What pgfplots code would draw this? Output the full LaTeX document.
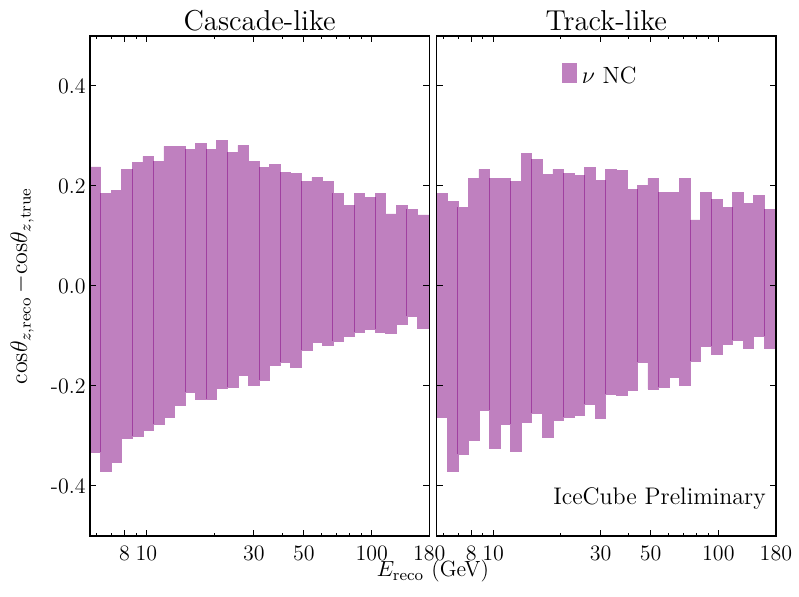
\documentclass[border=0pt]{standalone}
\usepackage{pgfplots}
\pgfplotsset{compat=1.18}
\usepackage{pgfplotstable}
\definecolor{barfill}{RGB}{191,128,191}
\definecolor{barline}{RGB}{160,64,160}

\pgfplotstableread{
e lo hi
5.6234 -0.332 0.238
6.2643 -0.370 0.185
6.9783 -0.352 0.191
7.7736 -0.304 0.233
8.6596 -0.300 0.247
9.6466 -0.289 0.259
10.746 -0.276 0.249
11.971 -0.262 0.279
13.335 -0.238 0.279
14.855 -0.212 0.273
16.548 -0.227 0.285
18.434 -0.226 0.273
20.535 -0.204 0.291
22.876 -0.202 0.267
25.483 -0.178 0.281
28.387 -0.198 0.249
31.623 -0.188 0.237
35.227 -0.158 0.243
39.242 -0.152 0.227
43.715 -0.162 0.225
48.697 -0.128 0.209
54.247 -0.112 0.217
60.430 -0.118 0.209
67.317 -0.110 0.185
74.989 -0.100 0.161
83.536 -0.092 0.185
93.057 -0.086 0.177
103.66 -0.092 0.185
115.48 -0.094 0.144
128.64 -0.076 0.161
143.30 -0.060 0.153
159.63 -0.084 0.142
180.00 -0.084 0.142
}\cascade

\pgfplotstableread{
e lo hi
5.6234 -0.262 0.185
6.2643 -0.370 0.169
6.9783 -0.336 0.157
7.7736 -0.308 0.215
8.6596 -0.248 0.233
9.6466 -0.324 0.215
10.746 -0.276 0.215
11.971 -0.330 0.209
13.335 -0.272 0.265
14.855 -0.254 0.253
16.548 -0.302 0.223
18.434 -0.268 0.233
20.535 -0.262 0.225
22.876 -0.258 0.221
25.483 -0.236 0.237
28.387 -0.264 0.211
31.623 -0.216 0.233
35.227 -0.218 0.231
39.242 -0.208 0.193
43.715 -0.152 0.201
48.697 -0.206 0.215
54.247 -0.202 0.187
60.430 -0.182 0.187
67.317 -0.198 0.215
74.989 -0.150 0.132
83.536 -0.120 0.187
93.057 -0.136 0.173
103.66 -0.116 0.157
115.48 -0.108 0.187
128.64 -0.124 0.165
143.30 -0.101 0.181
159.63 -0.124 0.153
180.00 -0.124 0.153
}\track

\pgfplotstableread{
x lo hi
6.2643 -0.332 0.185
8.6596 -0.300 0.233
10.746 -0.276 0.249
14.855 -0.212 0.273
18.434 -0.226 0.273
22.876 -0.202 0.267
31.623 -0.188 0.237
39.242 -0.152 0.227
48.697 -0.128 0.209
67.317 -0.110 0.185
83.536 -0.092 0.161
103.66 -0.086 0.177
143.30 -0.060 0.153
}\cascadelines

\pgfplotstableread{
x lo hi
6.9783 -0.336 0.157
9.6466 -0.248 0.215
11.971 -0.276 0.209
14.855 -0.254 0.253
20.535 -0.262 0.225
25.483 -0.236 0.221
31.623 -0.216 0.211
43.715 -0.152 0.193
54.247 -0.202 0.187
74.989 -0.150 0.132
93.057 -0.120 0.173
115.48 -0.108 0.157
159.63 -0.101 0.153
}\tracklines

\begin{document}
\begin{tikzpicture}
\useasboundingbox (-45pt,-30.5pt) rectangle (354.5pt,268pt);
\begin{axis}[name=left, at={(0pt,0pt)}, anchor=south west,
  scale only axis, width=169.6pt, height=250pt,
  xmode=log, xmin=5.6234, xmax=180, ymin=-0.5, ymax=0.5,
  axis on top,
  axis line style={line width=0.6pt, black},
  tick align=inside, major tick length=3pt, minor tick length=1.5pt,
  tick style={black, line width=0.5pt},
  xtick={8,10,30,50,100,180}, xticklabels={8,10,30,50,100,180},
  minor xtick={6,7,9,20,40,60,70,80,90},
  ytick={-0.4,-0.2,0,0.2,0.4},
  tick label style={font=\fontsize{11}{13}\selectfont},
  xticklabel style={inner sep=0pt, anchor=north, yshift=-4.5pt},
  every axis title shift=0pt,
  title style={font=\fontsize{14.4}{17}\selectfont, at={(axis description cs:0.5,1)}, anchor=base, yshift=2.75pt, inner sep=0pt},
  title={Cascade-like},
  yticklabels={-0.4,-0.2,0.0,0.2,0.4},
  yticklabel style={inner sep=0pt, xshift=-2pt},
  xlabel={$E_{\mathrm{reco}}$ (GeV)},
  xlabel style={at={(axis description cs:1.0109,0)}, anchor=base, yshift=-20.5pt, inner sep=0pt, font=\fontsize{11}{13}\selectfont},
  ylabel={$\mathrm{cos}\theta_{z,\mathrm{reco}}\,{-}\mathrm{cos}\theta_{z,\mathrm{true}}$},
  ylabel style={at={(axis description cs:-0.2004,0.5)}, anchor=center, inner sep=0pt, font=\fontsize{11.5}{13}\selectfont},
]
\addplot[ybar interval, fill=barfill, draw=barfill, line width=0.3pt] table[x=e, y=hi] {\cascade};
\addplot[ybar interval, fill=barfill, draw=barfill, line width=0.3pt] table[x=e, y=lo] {\cascade};
\addplot[draw=none, mark=none, error bars/.cd, y dir=plus, y explicit, error mark=none,
  error bar style={draw=barline, line width=0.5pt, solid}]
  table[x=x, y=lo, y error plus expr=\thisrow{hi}-\thisrow{lo}] {\cascadelines};
\end{axis}
\begin{axis}[name=right, at={(173.35pt,0pt)}, anchor=south west,
  scale only axis, width=169.6pt, height=250pt,
  xmode=log, xmin=5.6234, xmax=180, ymin=-0.5, ymax=0.5,
  axis on top,
  axis line style={line width=0.6pt, black},
  tick align=inside, major tick length=3pt, minor tick length=1.5pt,
  tick style={black, line width=0.5pt},
  xtick={8,10,30,50,100,180}, xticklabels={8,10,30,50,100,180},
  minor xtick={6,7,9,20,40,60,70,80,90},
  ytick={-0.4,-0.2,0,0.2,0.4},
  tick label style={font=\fontsize{11}{13}\selectfont},
  xticklabel style={inner sep=0pt, anchor=north, yshift=-4.5pt},
  every axis title shift=0pt,
  title style={font=\fontsize{14.4}{17}\selectfont, at={(axis description cs:0.5,1)}, anchor=base, yshift=2.75pt, inner sep=0pt},
  title={Track-like},
  yticklabels={},
]
\addplot[ybar interval, fill=barfill, draw=barfill, line width=0.3pt] table[x=e, y=hi] {\track};
\addplot[ybar interval, fill=barfill, draw=barfill, line width=0.3pt] table[x=e, y=lo] {\track};
\addplot[draw=none, mark=none, error bars/.cd, y dir=plus, y explicit, error mark=none,
  error bar style={draw=barline, line width=0.5pt, solid}]
  table[x=x, y=lo, y error plus expr=\thisrow{hi}-\thisrow{lo}] {\tracklines};
\node[anchor=base west, inner sep=0pt, font=\fontsize{11.75}{14}\selectfont] at (rel axis cs:0.3696,0.9052) {\textcolor{barfill}{\rule{7.2pt}{10.3pt}}\hspace{2.5pt}$\nu$ NC};
\node[anchor=base east, inner sep=0pt, font=\fontsize{12}{14.4}\selectfont] at (rel axis cs:0.9714,0.062) {IceCube Preliminary};
\end{axis}
\end{tikzpicture}
\end{document}
